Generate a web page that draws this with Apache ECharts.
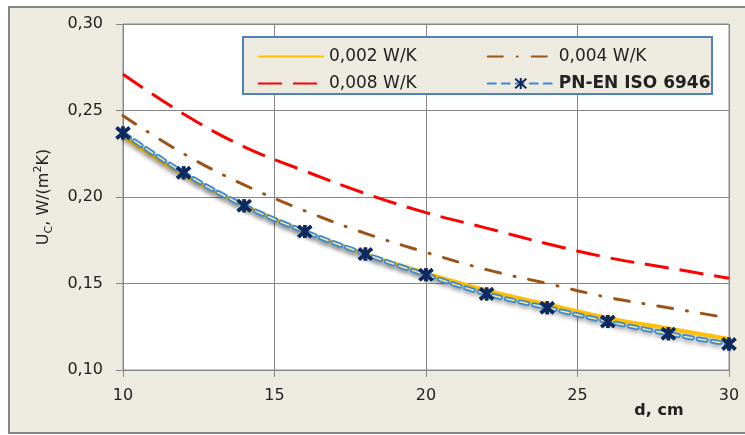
<!DOCTYPE html>
<html>
<head>
<meta charset="utf-8">
<script src="https://cdn.jsdelivr.net/npm/echarts@6/dist/echarts.min.js"></script>
<style>
  html, body { margin: 0; padding: 0; background: #fff; overflow: hidden; }
  #main { width: 745px; height: 435px; }
</style>
</head>
<body>
<div id="main"></div>
<script>
// d, cm
const thickness = [10, 12, 14, 16, 18, 20, 22, 24, 26, 28, 30];
// Uc, W/(m2K)
const u002 = [0.235, 0.213, 0.195, 0.180, 0.167, 0.156, 0.146, 0.138, 0.130, 0.124, 0.118];
const u004 = [0.247, 0.225, 0.207, 0.192, 0.179, 0.168, 0.158, 0.150, 0.142, 0.136, 0.130];
const u008 = [0.271, 0.248, 0.229, 0.215, 0.202, 0.191, 0.182, 0.173, 0.165, 0.159, 0.153];
const uIso = [0.237, 0.214, 0.195, 0.180, 0.167, 0.155, 0.144, 0.136, 0.128, 0.121, 0.115];
const names = ["0,002 W/K", "0,004 W/K", "0,008 W/K", "PN-EN ISO 6946"];

const font = "DejaVu Sans";
const pts = (ys) => thickness.map((x, i) => [x, ys[i]]);
const star = "path://M0,0L10,10M10,0L0,10M5,-1L5,11";
const shadow = { shadowColor: "rgba(0,0,0,0.3)", shadowBlur: 4, shadowOffsetY: 3 };
const noMark = { color: "transparent", borderColor: "transparent", borderWidth: 0 };

const chart = echarts.init(document.getElementById("main"));
const legendText = { fontFamily: font, fontSize: 17, color: "#222", width: 95 };

chart.setOption({
  animation: false,
  textStyle: { fontFamily: font },
  grid: {
    left: 123, right: 16, top: 24, bottom: 65,
    show: true, backgroundColor: "#fff", borderColor: "#8c8c8c", borderWidth: 1,
    outerBoundsMode: "none",
  },
  graphic: [
    {
      type: "rect", z: -1,
      shape: { x: 9, y: 7, width: 800, height: 426 },
      style: { fill: "#edeae0", stroke: "#858585", lineWidth: 2 },
    },
    {
      type: "rect", z: 3,
      shape: { x: 243, y: 37, width: 469, height: 57 },
      style: { fill: "#edeae0", stroke: "#4f81bd", lineWidth: 2 },
    },
  ],
  legend: [
    {
      data: [
        { name: names[0], itemStyle: noMark },
        { name: names[1], itemStyle: noMark },
      ],
      left: 252, top: 43,
      itemWidth: 66, itemHeight: 14, itemGap: 70, textStyle: legendText,
    },
    {
      data: [
        { name: names[2], itemStyle: noMark },
        { name: names[3], textStyle: { fontWeight: "bold" } },
      ],
      left: 252, top: 70,
      itemWidth: 66, itemHeight: 14, itemGap: 70, textStyle: legendText,
    },
  ],
  xAxis: {
    type: "value", min: 10, max: 30, interval: 5,
    name: "d, cm", nameLocation: "end", nameGap: -70,
    nameTextStyle: {
      fontFamily: font, fontSize: 16, fontWeight: "bold", color: "#222",
      align: "center", verticalAlign: "top", padding: [33, 0, 0, 0],
    },
    axisLine: { lineStyle: { color: "#868686" } },
    axisTick: { length: 7, lineStyle: { color: "#868686" } },
    axisLabel: { margin: 18, fontSize: 16, color: "#222" },
    splitLine: { lineStyle: { color: "#868686" } },
  },
  yAxis: {
    type: "value", min: 0.1, max: 0.3, interval: 0.05,
    name: "{a|U}{b|C}{a|, W/(m}{c|2}{a|K)}",
    nameLocation: "middle", nameGap: 68, nameRotate: 90,
    nameTextStyle: {
      rich: {
        a: { fontFamily: font, fontSize: 16, color: "#222", lineHeight: 22 },
        b: { fontFamily: font, fontSize: 11, color: "#222", verticalAlign: "bottom", lineHeight: 16 },
        c: { fontFamily: font, fontSize: 11, color: "#222", verticalAlign: "top", lineHeight: 16 },
      },
    },
    axisLine: { show: true, lineStyle: { color: "#868686" } },
    axisTick: { show: true, length: 7, lineStyle: { color: "#868686" } },
    axisLabel: {
      margin: 20, fontSize: 16, color: "#222",
      formatter: (v) => v.toFixed(2).replace(".", ","),
    },
    splitLine: { lineStyle: { color: "#868686" } },
  },
  series: [
    {
      name: names[2], type: "line", data: pts(u008), smooth: 0.4, symbol: "none",
      lineStyle: { color: "#ff0000", width: 3, type: [24, 11] },
    },
    {
      name: names[1], type: "line", data: pts(u004), smooth: 0.4, symbol: "none",
      lineStyle: { color: "#9c5316", width: 3, type: [15, 14, 1, 14], cap: "round" },
    },
    {
      name: names[0], type: "line", data: pts(u002), smooth: 0.4, symbol: "none",
      lineStyle: Object.assign({ color: "#ffc000", width: 4 }, shadow),
    },
    {
      name: names[3], type: "line", data: pts(uIso), smooth: 0.4,
      symbol: star, symbolSize: 13, showSymbol: true,
      itemStyle: { color: "#0f2a5e", borderColor: "#0f2a5e", borderWidth: 3.5 },
      lineStyle: Object.assign({ color: "#3a8ad4", width: 5, type: [8, 6], cap: "round" }, shadow),
    },
    {
      name: "iso-inner", type: "line", data: pts(uIso), smooth: 0.4, symbol: "none",
      lineStyle: { color: "#fbe49a", width: 1.5, type: [8, 6], cap: "round" },
    },
    {
      name: "iso-marks", type: "line", data: pts(uIso),
      symbol: star, symbolSize: 13, z: 3,
      itemStyle: { color: "#0f2a5e", borderColor: "#0f2a5e", borderWidth: 3.5 },
      lineStyle: { width: 0 },
    },
  ],
});
</script>
</body>
</html>
